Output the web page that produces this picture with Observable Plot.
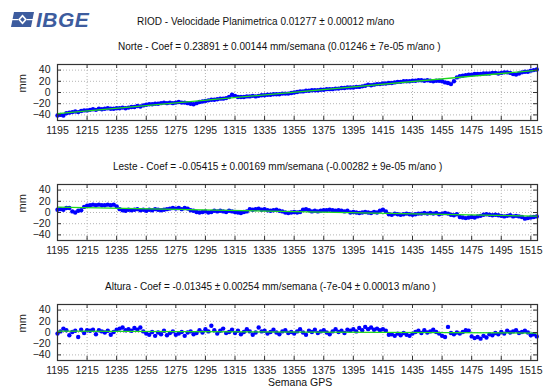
<!DOCTYPE html>
<html><head><meta charset="utf-8">
<script src="https://cdn.jsdelivr.net/npm/d3@7"></script>
<script src="https://cdn.jsdelivr.net/npm/@observablehq/plot@0.6"></script>
<style>
body{margin:0;background:#fff;}
#root{position:relative;width:546px;height:389px;overflow:hidden;font-family:"Liberation Sans",Arial,sans-serif;color:#111;background:#fff;}
.t{position:absolute;font-size:10px;white-space:nowrap;line-height:12px;}
.p{position:absolute;left:0;}
</style></head><body><div id="root"></div>
<script>
const mainTitle = "RIOD - Velocidade Planimetrica 0.01277 \u00b1 0.00012 m/ano";
const panelTitles = [
  "Norte - Coef = 0.23891 \u00b1 0.00144 mm/semana (0.01246 \u00b1 7e-05 m/ano )",
  "Leste - Coef = -0.05415 \u00b1 0.00169 mm/semana (-0.00282 \u00b1 9e-05 m/ano )",
  "Altura - Coef = -0.01345 \u00b1 0.00254 mm/semana (-7e-04 \u00b1 0.00013 m/ano )"
];
const xLabel = "Semana GPS";
const yLabel = "mm";
const xTicks = [1195,1215,1235,1255,1275,1295,1315,1335,1355,1375,1395,1415,1435,1455,1475,1495,1515];
const yTicks = [-40,-20,0,20,40];
const xDomain = [1195, 1519.5];
const yDomain = [-50, 50];

// GPS weeks (every second week)
const weeks = d3.range(1195, 1520, 2);

const norte = [
  -41,-40,-41,
  -37,-36,-35,-34,-35,-33,-32,
  -32,-31,-30,-31,-29,-30,-29,-28,-29,-29,-28,
  -28,-27,-28,-27,-26,-26,-24,-25,-23,-22,
  -21,-21,-20,-20,-19,-18,-19,-18,-19,-18,-17,-18,-18,-19,-20,-21,-19,
  -17,-16,-15,-14,-13,-13,-12,-11,-11,-10,-8,
  -4,-6,-8,-8,
  -8,-7,-7,-6,-7,-6,-5,-5,-4,-4,-3,-3,-3,-2,-2,-2,
  -1,0,1,2,2,3,3,4,4,4,5,5,6,6,6,7,7,8,8,9,9,9,10,10,11,12,14,
  13,14,15,15,16,16,17,17,18,19,19,20,20,20,21,21,22,22,21,22,21,20,21,21,20,18,17,
  15,20,27,29,30,31,32,32,33,33,33,34,34,34,35,35,34,35,36,36,35,33,32,34,36,37,37,39,40,41
];

const leste = [
  5,6,5,
  8,8,
  2,0,3,4,
  10,12,13,14,13,14,13,13,14,13,14,11,
  6,4,3,5,4,5,6,4,5,
  3,5,4,6,5,4,5,6,
  7,8,7,8,6,8,7,
  4,3,1,0,1,2,0,1,
  3,2,3,2,1,3,2,1,
  0,-1,1,2,
  6,5,6,7,5,6,
  4,3,4,5,3,2,
  0,-1,0,1,0,1,
  5,6,4,
  2,3,2,3,4,
  4,5,4,3,4,3,2,3,
  0,1,0,-1,0,1,0,-1,1,0,
  3,5,2,
  -3,-4,-2,-3,-4,-3,-2,-3,-4,-3,-2,-2,
  -1,-2,-1,-2,-1,-3,-2,-1,-2,
  -4,-5,-3,
  -8,-9,-10,-9,-8,-9,-7,-6,
  -4,-3,-4,-5,-4,-5,
  -6,-7,-6,-5,-7,-6,-7,-8,
  -11,-10,-9,
  -8,-7
];

const altura = [
  -2,2,7,4,-5,1,3,-8,5,-1,4,
  3,5,-3,4,2,0,3,-4,1,5,
  7,9,4,6,3,8,5,9,2,
  -2,-4,1,-6,0,-3,3,-5,-1,2,
  -4,-2,1,-6,0,2,-3,-1,4,0,
  6,2,12,4,-2,3,7,-1,1,5,
  -1,3,-3,1,6,2,-4,0,9,2,
  3,-2,1,5,0,-3,2,4,-1,1,
  -2,2,6,0,-4,3,1,5,-1,2,
  4,0,-3,2,6,1,3,-1,5,3,
  6,2,8,4,10,6,9,5,7,4,
  6,3,-4,-3,-6,-2,-5,-1,-4,-6,
  -2,1,3,-1,4,0,2,5,1,-2,
  -6,-8,10,-1,-3,0,-2,1,4,3,
  -7,-10,-8,-11,-6,-9,-3,-5,-1,-3,
  1,-2,3,0,2,4,-1,1,3,0,
  -5,-3,-7
];

const series = [norte, leste, altura];
const titleLefts = [118, 113, 105];

const root = document.getElementById("root");
function addText(txt, left, top, extra) {
  const d = document.createElement("div");
  d.className = "t";
  d.textContent = txt;
  d.style.left = left + "px";
  d.style.top = top + "px";
  if (extra) Object.assign(d.style, extra);
  root.appendChild(d);
  return d;
}

// logo
const logo = document.createElement("div");
logo.style.cssText = "position:absolute;left:10px;top:9px;display:flex;align-items:center;";
logo.innerHTML = '<svg width="25" height="17" viewBox="0 0 25 17"><path d="M4 1 H24 L21 16 H1 Z" fill="#3d5c9e"/><path d="M12.5 3.5 L17 8.5 L12.5 13.5 L8 8.5 Z" fill="#fff"/><path d="M12.5 6 L14.8 8.5 L12.5 11 L10.2 8.5 Z" fill="#3d5c9e"/><rect x="2" y="8" width="6" height="1.2" fill="#fff"/><rect x="17" y="8" width="6" height="1.2" fill="#fff"/></svg>' +
  '<span style="font:italic bold 21px \'Liberation Sans\',Arial,sans-serif;color:#3d5c9e;margin-left:1px;letter-spacing:0.5px;line-height:21px">IBGE</span>';
root.appendChild(logo);

addText(mainTitle, 137, 16);

const panelTops = [60, 180, 300];
const titleTops = [41, 161, 281];

series.forEach((vals, i) => {
  const data = weeks.map((w, j) => ({week: w, value: vals[j]}));
  addText(panelTitles[i], titleLefts[i], titleTops[i]);
  const chart = Plot.plot({
    width: 546,
    height: 80,
    marginLeft: 57,
    marginRight: 9,
    marginTop: 4,
    marginBottom: 20,
    style: {fontFamily: "'Liberation Sans', Arial, sans-serif", fontSize: "10.5px", color: "#222", background: "transparent", overflow: "visible"},
    x: {domain: xDomain, ticks: xTicks, tickSize: 0, tickPadding: 6, label: null, tickFormat: d => String(d)},
    y: {domain: yDomain, ticks: yTicks, tickSize: 0, tickPadding: 7, label: null},
    marks: [
      Plot.ruleX(xTicks, {stroke: "#b4b4b4", strokeDasharray: "1,2"}),
      Plot.ruleY(yTicks, {stroke: "#b4b4b4", strokeDasharray: "1,2"}),
      Plot.dot(data, {x: "week", y: "value", r: 2.2, fill: "#0000ff", stroke: "none"}),
      Plot.linearRegressionY(data, {x: "week", y: "value", stroke: "#1ed81e", strokeWidth: 1.3, ci: 0}),
      Plot.ruleX(xTicks, {stroke: "#333", insetBottom: 52}),
      Plot.ruleX(xTicks, {stroke: "#333", insetTop: 52}),
      Plot.ruleY(yTicks, {stroke: "#333", insetRight: 476}),
      Plot.ruleY(yTicks, {stroke: "#333", insetLeft: 476}),
      Plot.frame({stroke: "#333", strokeWidth: 1.2}),
      Plot.text([yLabel], {frameAnchor: "left", dx: -35, rotate: -90, fontSize: 11, fill: "#222"})
    ]
  });
  chart.classList.add("p");
  chart.style.top = panelTops[i] + "px";
  root.appendChild(chart);
});

addText(xLabel, 268, 376, {fontSize: "10.5px"});
</script>
</body></html>
